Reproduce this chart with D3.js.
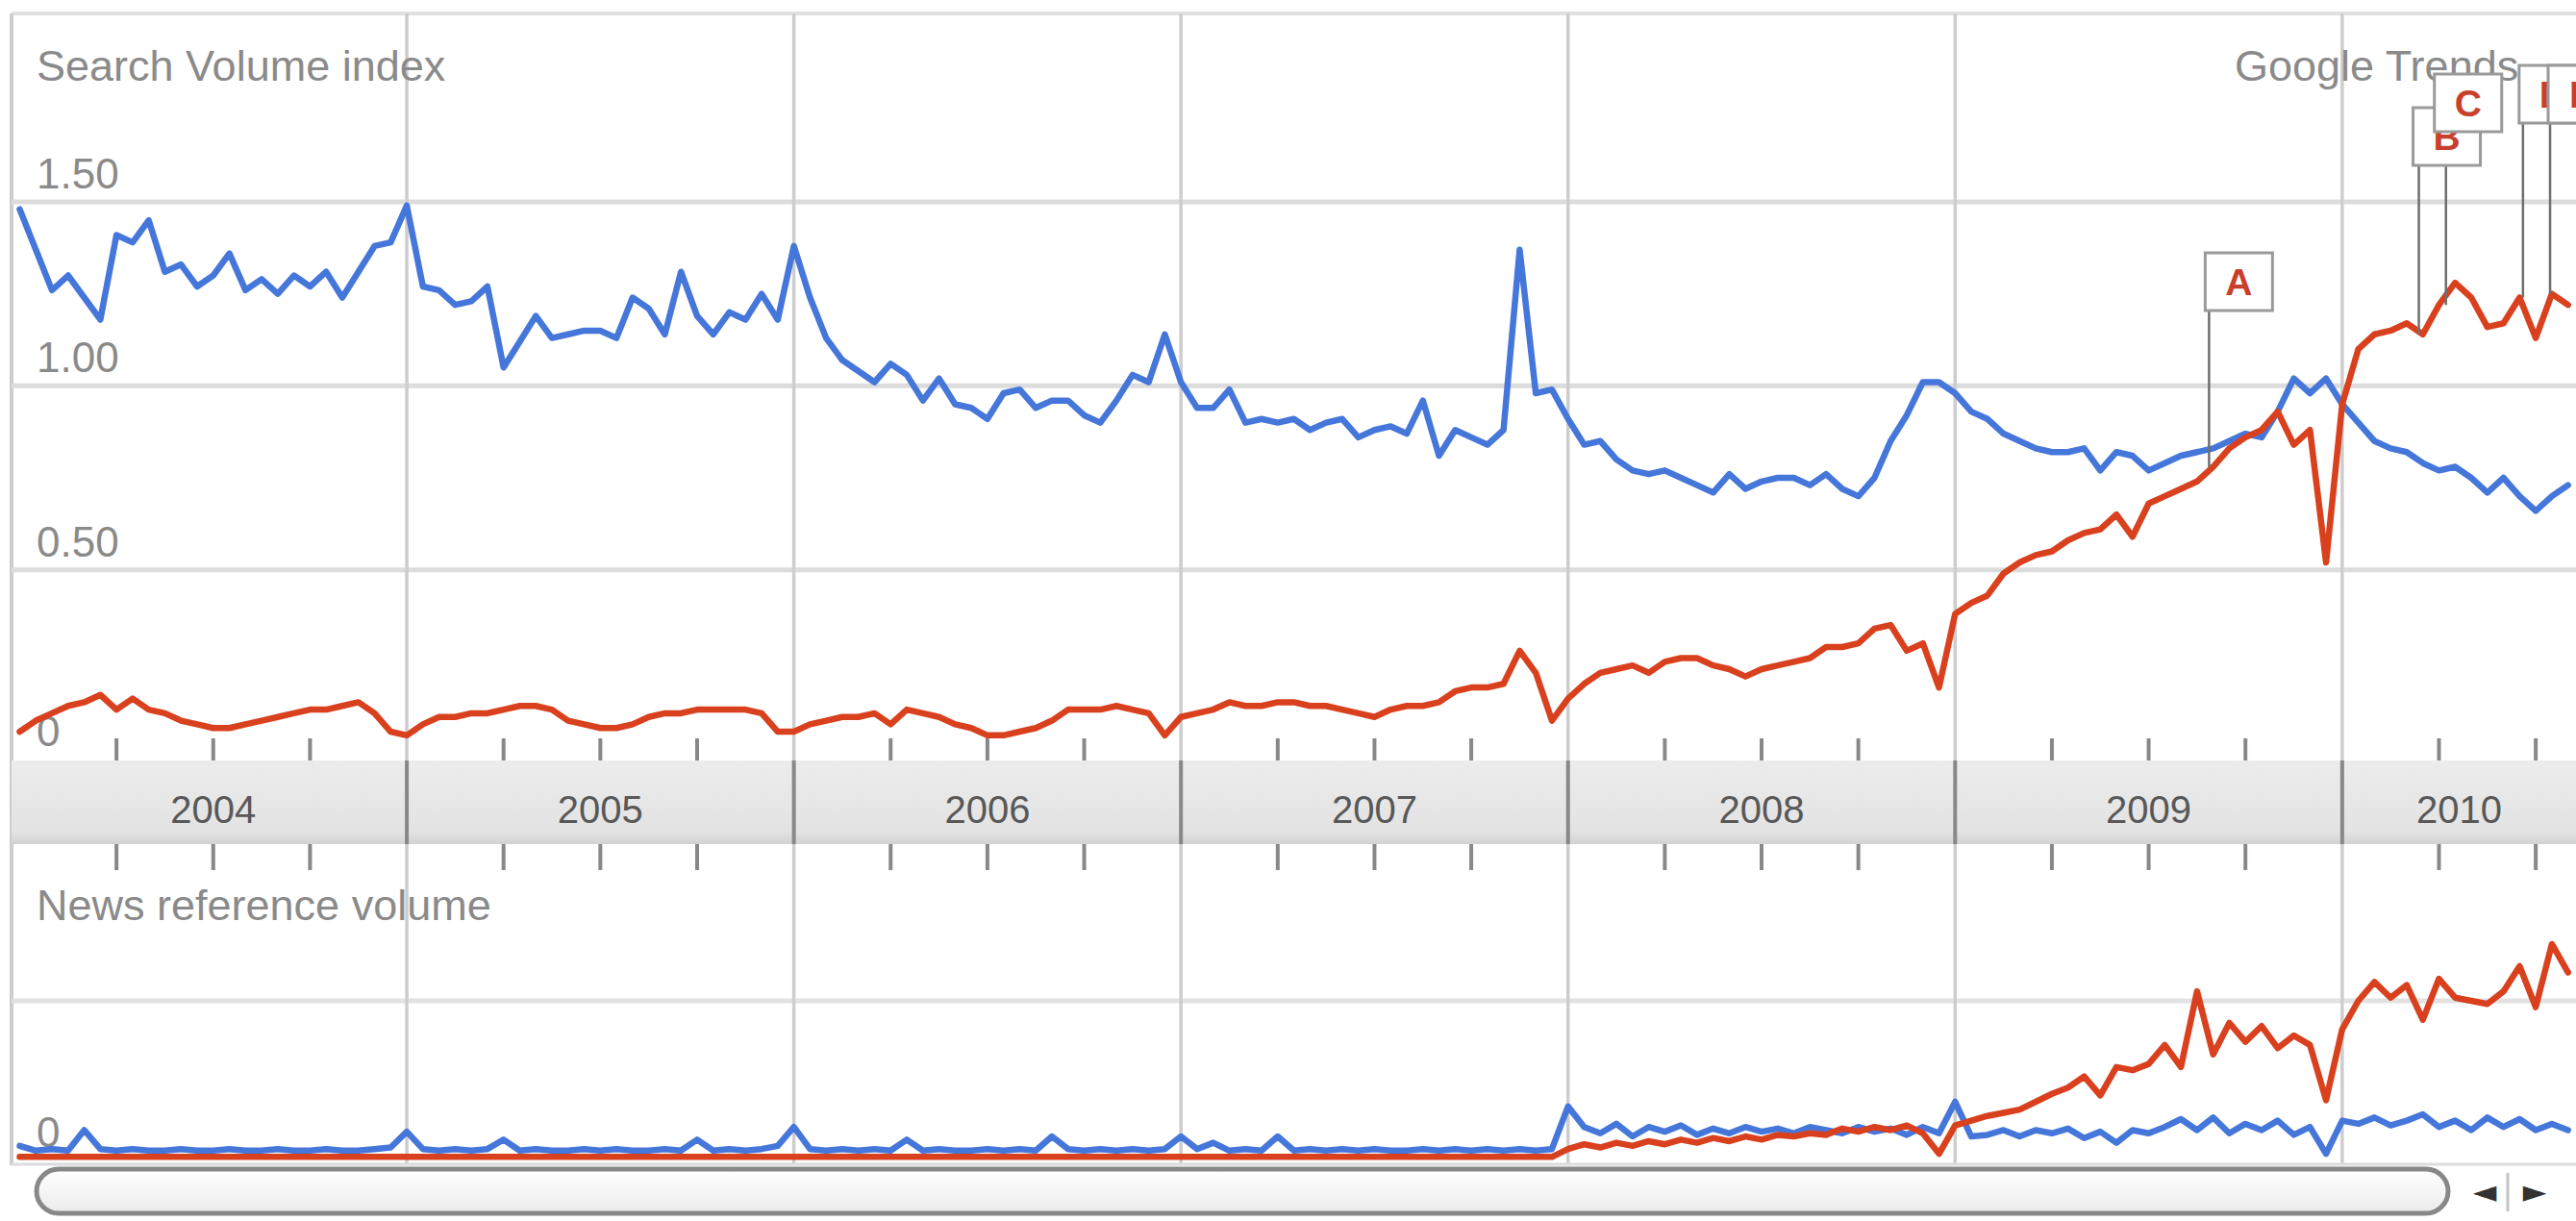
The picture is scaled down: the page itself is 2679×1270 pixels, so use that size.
<!DOCTYPE html>
<html><head><meta charset="utf-8">
<script src="https://cdn.jsdelivr.net/npm/d3@7"></script>
<style>html,body{margin:0;padding:0;background:#fff;overflow:hidden}</style>
</head><body>
<svg id="chart" width="2679" height="1270"></svg>
<script>
// ---------- DATA ----------
const yearLabels = ["2004","2005","2006","2007","2008","2009","2010"];
const topTickValues = [0, 0.5, 1.0, 1.5];
const topTickLabels = ["0", "0.50", "1.00", "1.50"];
const newsTickLabels = ["0"];
// semi-monthly sample dates (decimal years), Jan 2004 .. Jul 2010
const sampleCount = 159;
const dates = d3.range(sampleCount).map(k => 2004 + k / 24);

const searchBlue = [
 1.48,1.37,1.26,1.30,1.24,1.18,1.41,1.39,1.45,1.31,1.33,1.27,1.30,1.36,1.26,1.29,1.25,1.30,1.27,1.31,1.24,1.31,1.38,1.39,
 1.49,1.27,1.26,1.22,1.23,1.27,1.05,1.12,1.19,1.13,1.14,1.15,1.15,1.13,1.24,1.21,1.14,1.31,1.19,1.14,1.20,1.18,1.25,1.18,
 1.38,1.24,1.13,1.07,1.04,1.01,1.06,1.03,0.96,1.02,0.95,0.94,0.91,0.98,0.99,0.94,0.96,0.96,0.92,0.90,0.96,1.03,1.01,1.14,
 1.01,0.94,0.94,0.99,0.90,0.91,0.90,0.91,0.88,0.90,0.91,0.86,0.88,0.89,0.87,0.96,0.81,0.88,0.86,0.84,0.88,1.37,0.98,0.99,
 0.91,0.84,0.85,0.80,0.77,0.76,0.77,0.75,0.73,0.71,0.76,0.72,0.74,0.75,0.75,0.73,0.76,0.72,0.70,0.75,0.85,0.92,1.01,1.01,
 0.98,0.93,0.91,0.87,0.85,0.83,0.82,0.82,0.83,0.77,0.82,0.81,0.77,0.79,0.81,0.82,0.83,0.85,0.87,0.86,0.93,1.02,0.98,1.02,
 0.95,0.90,0.85,0.83,0.82,0.79,0.77,0.78,0.75,0.71,0.75,0.70,0.66,0.70,0.73
];
const searchRed = [
 0.06,0.09,0.11,0.13,0.14,0.16,0.12,0.15,0.12,0.11,0.09,0.08,0.07,0.07,0.08,0.09,0.10,0.11,0.12,0.12,0.13,0.14,0.11,0.06,
 0.05,0.08,0.10,0.10,0.11,0.11,0.12,0.13,0.13,0.12,0.09,0.08,0.07,0.07,0.08,0.10,0.11,0.11,0.12,0.12,0.12,0.12,0.11,0.06,
 0.06,0.08,0.09,0.10,0.10,0.11,0.08,0.12,0.11,0.10,0.08,0.07,0.05,0.05,0.06,0.07,0.09,0.12,0.12,0.12,0.13,0.12,0.11,0.05,
 0.10,0.11,0.12,0.14,0.13,0.13,0.14,0.14,0.13,0.13,0.12,0.11,0.10,0.12,0.13,0.13,0.14,0.17,0.18,0.18,0.19,0.28,0.22,0.09,
 0.15,0.19,0.22,0.23,0.24,0.22,0.25,0.26,0.26,0.24,0.23,0.21,0.23,0.24,0.25,0.26,0.29,0.29,0.30,0.34,0.35,0.28,0.30,0.18,
 0.38,0.41,0.43,0.49,0.52,0.54,0.55,0.58,0.60,0.61,0.65,0.59,0.68,0.70,0.72,0.74,0.78,0.83,0.86,0.88,0.93,0.84,0.88,0.52,
 0.95,1.10,1.14,1.15,1.17,1.14,1.22,1.28,1.24,1.16,1.17,1.24,1.13,1.25,1.22
];
const newsBlue = [
 0.08,0.05,0.06,0.05,0.18,0.06,0.05,0.06,0.05,0.05,0.06,0.05,0.05,0.06,0.05,0.05,0.06,0.05,0.05,0.06,0.05,0.05,0.06,0.07,
 0.17,0.06,0.05,0.06,0.05,0.06,0.12,0.05,0.06,0.05,0.05,0.06,0.05,0.06,0.05,0.05,0.06,0.05,0.12,0.05,0.06,0.05,0.06,0.08,
 0.20,0.06,0.05,0.06,0.05,0.06,0.05,0.12,0.05,0.06,0.05,0.05,0.06,0.05,0.06,0.05,0.14,0.06,0.05,0.06,0.05,0.06,0.05,0.06,
 0.14,0.06,0.10,0.05,0.06,0.05,0.14,0.05,0.06,0.05,0.06,0.05,0.06,0.05,0.05,0.06,0.05,0.06,0.05,0.06,0.05,0.06,0.05,0.06,
 0.33,0.20,0.16,0.22,0.14,0.20,0.17,0.21,0.15,0.19,0.16,0.20,0.17,0.19,0.16,0.20,0.18,0.16,0.20,0.17,0.19,0.15,0.20,0.16,
 0.36,0.14,0.15,0.18,0.14,0.18,0.16,0.19,0.13,0.17,0.10,0.18,0.16,0.20,0.25,0.18,0.26,0.16,0.22,0.18,0.24,0.15,0.20,0.03,
 0.24,0.22,0.26,0.21,0.24,0.28,0.20,0.24,0.18,0.26,0.20,0.25,0.18,0.22,0.18
];
const newsRed = [
 0.01,0.01,0.01,0.01,0.01,0.01,0.01,0.01,0.01,0.01,0.01,0.01,0.01,0.01,0.01,0.01,0.01,0.01,0.01,0.01,0.01,0.01,0.01,0.01,
 0.01,0.01,0.01,0.01,0.01,0.01,0.01,0.01,0.01,0.01,0.01,0.01,0.01,0.01,0.01,0.01,0.01,0.01,0.01,0.01,0.01,0.01,0.01,0.01,
 0.01,0.01,0.01,0.01,0.01,0.01,0.01,0.01,0.01,0.01,0.01,0.01,0.01,0.01,0.01,0.01,0.01,0.01,0.01,0.01,0.01,0.01,0.01,0.01,
 0.01,0.01,0.01,0.01,0.01,0.01,0.01,0.01,0.01,0.01,0.01,0.01,0.01,0.01,0.01,0.01,0.01,0.01,0.01,0.01,0.01,0.01,0.01,0.01,
 0.06,0.09,0.07,0.10,0.08,0.11,0.09,0.12,0.10,0.13,0.11,0.14,0.12,0.15,0.14,0.16,0.15,0.19,0.17,0.20,0.18,0.21,0.16,0.03,
 0.21,0.24,0.27,0.29,0.31,0.36,0.41,0.45,0.52,0.40,0.58,0.56,0.60,0.72,0.58,1.06,0.66,0.86,0.74,0.84,0.70,0.78,0.72,0.37,
 0.82,1.00,1.12,1.02,1.10,0.88,1.14,1.02,1.00,0.98,1.06,1.22,0.96,1.36,1.18
];
const annotationLetters = ["A","B","C","D","E"];
const annotationDates = [2009.656, 2010.198, 2010.268, 2010.467, 2010.537];

// ---------- LAYOUT ----------
const W = 2679, H = 1270;
const left = 12, xStart = 20.5;
const xEnd = 2010.604;
const annBox = {A:{dx:-4, top:263}, B:{dx:-6, top:112}, C:{dx:-12, top:77}, D:{dx:-4, top:68}, E:{dx:-2, top:68}};
const annDrawOrder = ["B","C","D","E","A"];
const bandTop = 791, bandBottom = 878;
const FONT = "'Liberation Sans', Arial, sans-serif";
const BLUE = "#4576da", RED = "#d9401e", TEXT = "#8a8a8a";

const svg = d3.select("#chart");
svg.append("rect").attr("width", W).attr("height", H).attr("fill", "#fff");
const defs = svg.append("defs");

const x = d3.scaleLinear().domain([2004, xEnd]).range([xStart, W]);
const yTop = d3.scaleLinear().domain([0, 1.5]).range([784, 210]);
const yNews = d3.scaleLinear().domain([0, 1]).range([1205, 1041]);

defs.append("clipPath").attr("id", "plotclip").append("rect")
  .attr("x", left).attr("y", 0).attr("width", W - left).attr("height", 1212);

// frame
svg.append("line").attr("x1", left).attr("x2", W).attr("y1", 14).attr("y2", 14)
  .attr("stroke", "#e0e0e0").attr("stroke-width", 4);
svg.append("line").attr("x1", left).attr("x2", left).attr("y1", 14).attr("y2", 1212)
  .attr("stroke", "#cdcdcd").attr("stroke-width", 4);

// horizontal gridlines
const gridVals = topTickValues.filter(v => v > 0);
svg.append("g").selectAll("line").data(gridVals).join("line")
  .attr("x1", left).attr("x2", W)
  .attr("y1", d => yTop(d)).attr("y2", d => yTop(d))
  .attr("stroke", "#dcdcdc").attr("stroke-width", 5);
svg.append("line").attr("x1", left).attr("x2", W)
  .attr("y1", yNews(1)).attr("y2", yNews(1))
  .attr("stroke", "#e2e2e2").attr("stroke-width", 5);

// year boundaries
const yearStarts = yearLabels.map(Number);
const yearLines = yearStarts.filter(y => y > 2004);
svg.append("g").selectAll("line").data(yearLines).join("line")
  .attr("x1", d => x(d)).attr("x2", d => x(d))
  .attr("y1", 14).attr("y2", 1212)
  .attr("stroke", "#cdcdcd").attr("stroke-width", 3.5);

// band
const bandGrad = defs.append("linearGradient").attr("id", "bandg")
  .attr("x1", 0).attr("x2", 0).attr("y1", 0).attr("y2", 1);
bandGrad.append("stop").attr("offset", "0%").attr("stop-color", "#ececec");
bandGrad.append("stop").attr("offset", "85%").attr("stop-color", "#e3e3e3");
bandGrad.append("stop").attr("offset", "100%").attr("stop-color", "#d2d2d2");
svg.append("rect").attr("x", left).attr("y", bandTop).attr("width", W - left)
  .attr("height", bandBottom - bandTop).attr("fill", "url(#bandg)");
svg.append("g").selectAll("line").data(yearLines).join("line")
  .attr("x1", d => x(d)).attr("x2", d => x(d))
  .attr("y1", bandTop).attr("y2", bandBottom)
  .attr("stroke", "#888").attr("stroke-width", 4);

// quarter ticks
const quarterTicks = [];
yearStarts.forEach(y => [0.25, 0.5, 0.75].forEach(q => { if (y + q < xEnd) quarterTicks.push(y + q); }));
const qt = svg.append("g").attr("stroke", "#888").attr("stroke-width", 4);
qt.selectAll("line.up").data(quarterTicks).join("line").attr("class", "up")
  .attr("x1", d => x(d)).attr("x2", d => x(d)).attr("y1", 768).attr("y2", bandTop);
qt.selectAll("line.dn").data(quarterTicks).join("line").attr("class", "dn")
  .attr("x1", d => x(d)).attr("x2", d => x(d)).attr("y1", bandBottom).attr("y2", 905);

// year labels
svg.append("g").selectAll("text").data(yearLabels).join("text")
  .attr("x", d => x((+d + Math.min(+d + 1, xEnd)) / 2))
  .attr("y", 856)
  .attr("text-anchor", "middle")
  .attr("font-family", FONT).attr("font-size", 40).attr("fill", "#585858")
  .text(d => d);

// titles
svg.append("text").attr("x", 38).attr("y", 84).attr("font-family", FONT)
  .attr("font-size", 45).attr("fill", TEXT).text("Search Volume index");
svg.append("text").attr("x", 2324).attr("y", 84).attr("font-family", FONT)
  .attr("font-size", 45).attr("fill", TEXT).text("Google Trends");
svg.append("text").attr("x", 38).attr("y", 957).attr("font-family", FONT)
  .attr("font-size", 45).attr("fill", TEXT).text("News reference volume");

// y tick labels
svg.append("g").selectAll("text").data(topTickValues).join("text")
  .attr("x", 38).attr("y", d => d === 0 ? yTop(d) - 8 : yTop(d) - 14)
  .attr("font-family", FONT).attr("font-size", 44).attr("fill", TEXT)
  .text((d, i) => topTickLabels[i]);
svg.append("text").attr("x", 38).attr("y", yNews(0) - 12)
  .attr("font-family", FONT).attr("font-size", 44).attr("fill", TEXT).text(newsTickLabels[0]);

// series
const plot = svg.append("g").attr("clip-path", "url(#plotclip)");
function drawSeries(values, yScale, color) {
  const line = d3.line().x((d, i) => x(dates[i])).y(d => yScale(d));
  plot.append("path").datum(values).attr("d", line)
    .attr("fill", "none").attr("stroke", color).attr("stroke-width", 6.5)
    .attr("stroke-linejoin", "round").attr("stroke-linecap", "round");
}
drawSeries(searchBlue, yTop, BLUE);
drawSeries(searchRed, yTop, RED);
drawSeries(newsBlue, yNews, BLUE);
drawSeries(newsRed, yNews, RED);

// annotations
const bisect = d3.bisector(d => d).center;
const anns = annotationLetters.map((l, i) => {
  const k = bisect(dates, annotationDates[i]);
  return { letter: l, t: annotationDates[i], v: searchRed[k] };
});
const boxW = 70, boxH = 60;
const annG = svg.append("g");
anns.forEach(a => {
  annG.append("line").attr("x1", x(a.t)).attr("x2", x(a.t))
    .attr("y1", annBox[a.letter].top + boxH).attr("y2", yTop(a.v))
    .attr("stroke", "#6f6f6f").attr("stroke-width", 2.5);
});
annDrawOrder.forEach(l => {
  const a = anns.find(d => d.letter === l);
  const bx = x(a.t) + annBox[l].dx, by = annBox[l].top;
  annG.append("rect").attr("x", bx).attr("y", by).attr("width", boxW).attr("height", boxH)
    .attr("fill", "#fff").attr("stroke", "#9a9a9a").attr("stroke-width", 3);
  annG.append("text").attr("x", bx + boxW / 2).attr("y", by + boxH / 2 + 14)
    .attr("text-anchor", "middle").attr("font-family", FONT).attr("font-weight", "bold")
    .attr("font-size", 39).attr("fill", "#c8402c").text(l);
});

// scrollbar
svg.append("line").attr("x1", left).attr("x2", W).attr("y1", 1211).attr("y2", 1211)
  .attr("stroke", "#dcdcdc").attr("stroke-width", 3);
const sg = defs.append("linearGradient").attr("id", "scrollg")
  .attr("x1", 0).attr("x2", 0).attr("y1", 0).attr("y2", 1);
sg.append("stop").attr("offset", "0%").attr("stop-color", "#ffffff");
sg.append("stop").attr("offset", "100%").attr("stop-color", "#ebebeb");
svg.append("rect").attr("x", 38).attr("y", 1216).attr("width", 2508).attr("height", 46)
  .attr("rx", 23).attr("fill", "url(#scrollg)").attr("stroke", "#888").attr("stroke-width", 5);
svg.append("line").attr("x1", 2608).attr("x2", 2608).attr("y1", 1220).attr("y2", 1260)
  .attr("stroke", "#c4c4c4").attr("stroke-width", 3);
svg.append("text").attr("x", 2584).attr("y", 1250).attr("text-anchor", "middle")
  .attr("font-family", "'DejaVu Sans', sans-serif").attr("font-size", 32).attr("fill", "#333").text("◄");
svg.append("text").attr("x", 2636).attr("y", 1250).attr("text-anchor", "middle")
  .attr("font-family", "'DejaVu Sans', sans-serif").attr("font-size", 32).attr("fill", "#333").text("►");
</script>
</body></html>
